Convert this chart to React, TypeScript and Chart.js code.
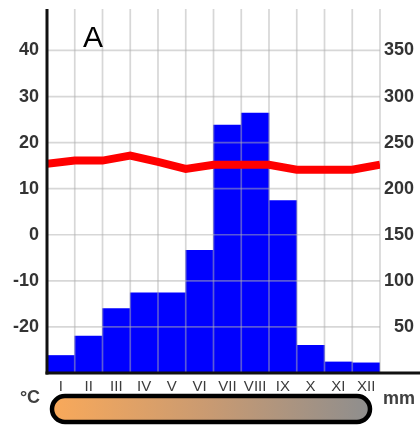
import React, { useEffect, useRef } from "react";
import { Chart, registerables } from "chart.js";

Chart.register(...registerables);

const months = ["I", "II", "III", "IV", "V", "VI", "VII", "VIII", "IX", "X", "XI", "XII"];
const precipitation = [19, 40, 70, 87, 87, 133, 269, 282, 187, 30, 12, 11];
// temperature read at the month boundaries (13 points, start of Jan .. end of Dec)
const temperaturePositions = [0, 1, 2, 3, 4, 5, 6, 7, 8, 9, 10, 11, 12];
const temperature = [15.4, 16.1, 16.1, 17.2, 15.8, 14.3, 15.2, 15.2, 15.2, 14.1, 14.1, 14.1, 15.2];
const tempRange = [-30, 49];
const precRange = [0, 395];

const FONT = "'Liberation Sans', Arial, sans-serif";

const gridPlugin = {
  id: "overGrid",
  afterDatasetDraw(chart: any, args: any) {
    if (args.index !== 0) return;
    const { ctx, chartArea } = chart;
    const y = chart.scales.y;
    ctx.save();
    ctx.strokeStyle = "rgba(175,175,175,0.5)";
    ctx.lineWidth = 1.7;
    y.ticks.forEach((t: any) => {
      if (t.value % 10 !== 0 || t.value <= tempRange[0]) return;
      const py = y.getPixelForValue(t.value);
      ctx.beginPath();
      ctx.moveTo(chartArea.left, py);
      ctx.lineTo(chartArea.right, py);
      ctx.stroke();
    });
    const w = (chartArea.right - chartArea.left) / months.length;
    for (let i = 1; i <= months.length; i++) {
      const px = chartArea.left + i * w;
      ctx.beginPath();
      ctx.moveTo(px, chartArea.top);
      ctx.lineTo(px, chartArea.bottom);
      ctx.stroke();
    }
    ctx.restore();
  },
  afterDraw(chart: any) {
    const { ctx, chartArea } = chart;
    ctx.save();
    ctx.strokeStyle = "#111";
    ctx.lineWidth = 3;
    ctx.beginPath();
    ctx.moveTo(chartArea.left, chartArea.top);
    ctx.lineTo(chartArea.left, chartArea.bottom + 1.5);
    ctx.stroke();
    ctx.beginPath();
    ctx.moveTo(chartArea.left - 1.5, chartArea.bottom);
    ctx.lineTo(chart.width, chartArea.bottom);
    ctx.stroke();

    // "A" label
    ctx.fillStyle = "#000";
    ctx.font = `30px ${FONT}`;
    ctx.textAlign = "left";
    ctx.textBaseline = "alphabetic";
    ctx.fillText("A", 83, 47);

    // units
    ctx.fillStyle = "#404040";
    ctx.font = `bold 18px ${FONT}`;
    ctx.textAlign = "center";
    ctx.textBaseline = "middle";
    ctx.fillText("°C", 30, 398);
    ctx.fillText("mm", 399, 399);

    // gradient pill
    const px = 52, py = 396, pw = 318, ph = 26;
    const grad = ctx.createLinearGradient(px, 0, px + pw, 0);
    grad.addColorStop(0, "#f9a95a");
    grad.addColorStop(0.5, "#c89a72");
    grad.addColorStop(1, "#8e8e8e");
    ctx.beginPath();
    (ctx as any).roundRect(px, py, pw, ph, 13);
    ctx.fillStyle = grad;
    ctx.fill();
    ctx.lineWidth = 4.5;
    ctx.strokeStyle = "#000";
    ctx.stroke();
    ctx.restore();
  },
};

const noPad = (s: any) => {
  s.paddingTop = 0;
  s.paddingBottom = 0;
};

export default function App() {
  const ref = useRef<HTMLCanvasElement>(null);
  useEffect(() => {
    document.body.style.margin = "0";
    const canvas = ref.current!;
    const chart = new Chart(canvas, {
      type: "bar",
      data: {
        labels: months,
        datasets: [
          {
            type: "bar",
            label: "mm",
            data: precipitation,
            backgroundColor: "#0000ff",
            borderWidth: 0,
            barPercentage: 1,
            categoryPercentage: 1,
            grouped: false,
            xAxisID: "x",
            yAxisID: "y2",
            order: 2,
          } as any,
          {
            type: "line",
            label: "°C",
            data: temperaturePositions.map((p, i) => ({ x: p, y: temperature[i] })),
            borderColor: "#ff0000",
            borderWidth: 8,
            pointRadius: 0,
            tension: 0,
            fill: false,
            xAxisID: "x2",
            yAxisID: "y",
            order: 1,
          } as any,
        ],
      },
      options: {
        responsive: false,
        animation: false,
        devicePixelRatio: 1,
        layout: { padding: { top: 9, right: 6, bottom: 0, left: 0 } },
        plugins: { legend: { display: false }, tooltip: { enabled: false } },
        scales: {
          x: {
            type: "category",
            position: "bottom",
            offset: true,
            grid: { display: false, drawTicks: false, offset: true },
            border: { display: false },
            ticks: { color: "#3c3c3c", font: { family: FONT, size: 15 }, padding: 5, maxRotation: 0, autoSkip: false },
            afterFit: (s: any) => { s.height = 53; },
          },
          x2: {
            type: "linear",
            display: false,
            offset: false,
            grid: { offset: false },
            min: 0,
            max: 12,
          },
          y: {
            type: "linear",
            position: "left",
            min: tempRange[0],
            max: tempRange[1],
            grid: { display: false, drawTicks: false },
            border: { display: false },
            ticks: {
              stepSize: 10,
              color: "#333",
              font: { family: FONT, size: 18, weight: "bold" },
              padding: 8,
              callback: (v: any) => (v % 10 === 0 && v > tempRange[0] ? String(v) : ""),
            },
            afterFit: (s: any) => { s.width = 47; noPad(s); },
          },
          y2: {
            type: "linear",
            position: "right",
            min: precRange[0],
            max: precRange[1],
            grid: { display: false, drawTicks: false },
            border: { display: false },
            ticks: {
              stepSize: 50,
              color: "#333",
              crossAlign: "far",
              font: { family: FONT, size: 18, weight: "bold" },
              callback: (v: any) => (v % 50 === 0 && v > 0 ? String(v) : ""),
            },
            afterFit: (s: any) => { s.width = 34; noPad(s); },
          },
        },
      } as any,
      plugins: [gridPlugin],
    });
    return () => chart.destroy();
  }, []);
  return (
    <div style={{ width: 420, height: 426 }}>
      <canvas ref={ref} width={420} height={426} style={{ display: "block", width: 420, height: 426 }} />
    </div>
  );
}
